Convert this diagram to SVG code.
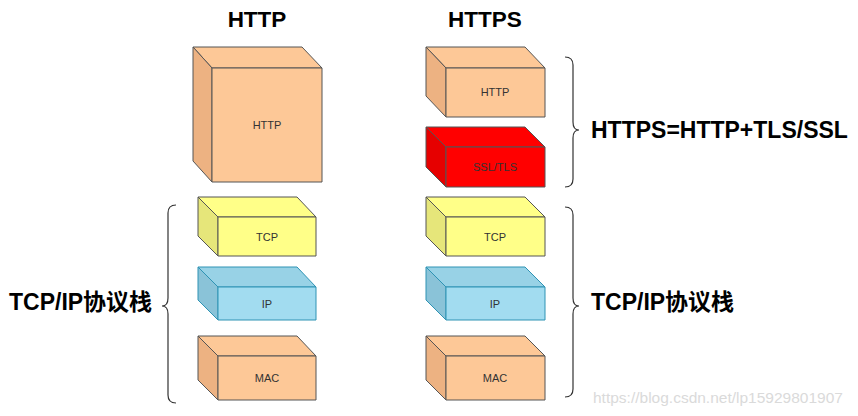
<svg xmlns="http://www.w3.org/2000/svg" width="858" height="416" viewBox="0 0 858 416">
<style>
.box path{stroke:#555;stroke-width:1;stroke-linejoin:round}
.o .f,.o .t{fill:#FDC897}.o .s{fill:#EDB282}
.y .f,.y .t{fill:#FFFF88}.y .s{fill:#E6E67A}
.b .f{fill:#A2DCF0}.b .t{fill:#98D2E6}.b .s{fill:#8AC3D8}
.b path{stroke:#2E93B4}
.r .f,.r .t{fill:#FF0000}.r .s{fill:#E60000}
.lbl{font-family:"Liberation Sans",Arial,sans-serif;font-size:11px;fill:#333;text-anchor:middle;stroke:none}
.big{font-family:"Liberation Sans",Arial,"Noto Sans CJK SC",sans-serif;font-size:23px;font-weight:bold;fill:#000}
.title{font-family:"Liberation Sans",Arial,sans-serif;font-size:22.5px;font-weight:bold;fill:#000;text-anchor:middle}
.brace{fill:none;stroke:#333;stroke-width:1.2}
</style>
<text class="title" x="257" y="27">HTTP</text>
<text class="title" x="485" y="27">HTTPS</text>

<g id="left-http" class="box o">
<path class="t" d="M193,47 L302,47 L322,68 L212,68 Z"/>
<path class="s" d="M193,47 L212,68 L212,182 L193,161 Z"/>
<path class="f" d="M212,68 H322 V182 H212 Z"/>
<text class="lbl" x="267" y="129">HTTP</text>
</g>
<g id="left-tcp" class="box y">
<path class="t" d="M198,197 L297,197 L316,217 L218,217 Z"/>
<path class="s" d="M198,197 L218,217 L218,256 L198,236 Z"/>
<path class="f" d="M218,217 H316 V256 H218 Z"/>
<text class="lbl" x="267" y="241">TCP</text>
</g>
<g id="left-ip" class="box b">
<path class="t" d="M198,267 L297,267 L316,287 L218,287 Z"/>
<path class="s" d="M198,267 L218,287 L218,320 L198,300 Z"/>
<path class="f" d="M218,287 H316 V320 H218 Z"/>
<text class="lbl" x="267" y="308">IP</text>
</g>
<g id="left-mac" class="box o">
<path class="t" d="M198,336 L297,336 L316,356 L218,356 Z"/>
<path class="s" d="M198,336 L218,356 L218,400 L198,380 Z"/>
<path class="f" d="M218,356 H316 V400 H218 Z"/>
<text class="lbl" x="267" y="382">MAC</text>
</g>

<g id="right-http" class="box o">
<path class="t" d="M426,47 L525,47 L545,68 L446,68 Z"/>
<path class="s" d="M426,47 L446,68 L446,117 L426,96 Z"/>
<path class="f" d="M446,68 H545 V117 H446 Z"/>
<text class="lbl" x="495" y="96">HTTP</text>
</g>
<g id="right-ssl" class="box r">
<path class="t" d="M426,127 L525,127 L545,147 L446,147 Z"/>
<path class="s" d="M426,127 L446,147 L446,187 L426,167 Z"/>
<path class="f" d="M446,147 H545 V187 H446 Z"/>
<text class="lbl" x="495" y="171">SSL/TLS</text>
</g>
<g id="right-tcp" class="box y">
<path class="t" d="M426,197 L525,197 L545,217 L446,217 Z"/>
<path class="s" d="M426,197 L446,217 L446,256 L426,236 Z"/>
<path class="f" d="M446,217 H545 V256 H446 Z"/>
<text class="lbl" x="495" y="241">TCP</text>
</g>
<g id="right-ip" class="box b">
<path class="t" d="M426,267 L525,267 L545,287 L446,287 Z"/>
<path class="s" d="M426,267 L446,287 L446,320 L426,300 Z"/>
<path class="f" d="M446,287 H545 V320 H446 Z"/>
<text class="lbl" x="495" y="308">IP</text>
</g>
<g id="right-mac" class="box o">
<path class="t" d="M426,336 L525,336 L545,356 L446,356 Z"/>
<path class="s" d="M426,336 L446,356 L446,400 L426,380 Z"/>
<path class="f" d="M446,356 H545 V400 H446 Z"/>
<text class="lbl" x="495" y="382">MAC</text>
</g>

<g id="connectors">
<path class="brace" d="M176,205 Q168,205 168,213 L168,298 Q168,306 162,306 Q168,306 168,314 L168,395 Q168,403 176,403"/>
<path class="brace" d="M565,57 Q573,57 573,65 L573,122 Q573,130 579,130 Q573,130 573,138 L573,179 Q573,187 565,187"/>
<path class="brace" d="M565,207 Q573,207 573,215 L573,298 Q573,306 579,306 Q573,306 573,314 L573,389 Q573,397 565,397"/>
</g>

<text class="big" x="9" y="310">TCP/IP协议栈</text>
<text class="big" x="591" y="138">HTTPS=HTTP+TLS/SSL</text>
<text class="big" x="591" y="310">TCP/IP协议栈</text>
<text x="593" y="403" font-family="Liberation Sans,Arial,sans-serif" font-size="15.5" fill="#DADADA">https://blog.csdn.net/lp15929801907</text>
</svg>
